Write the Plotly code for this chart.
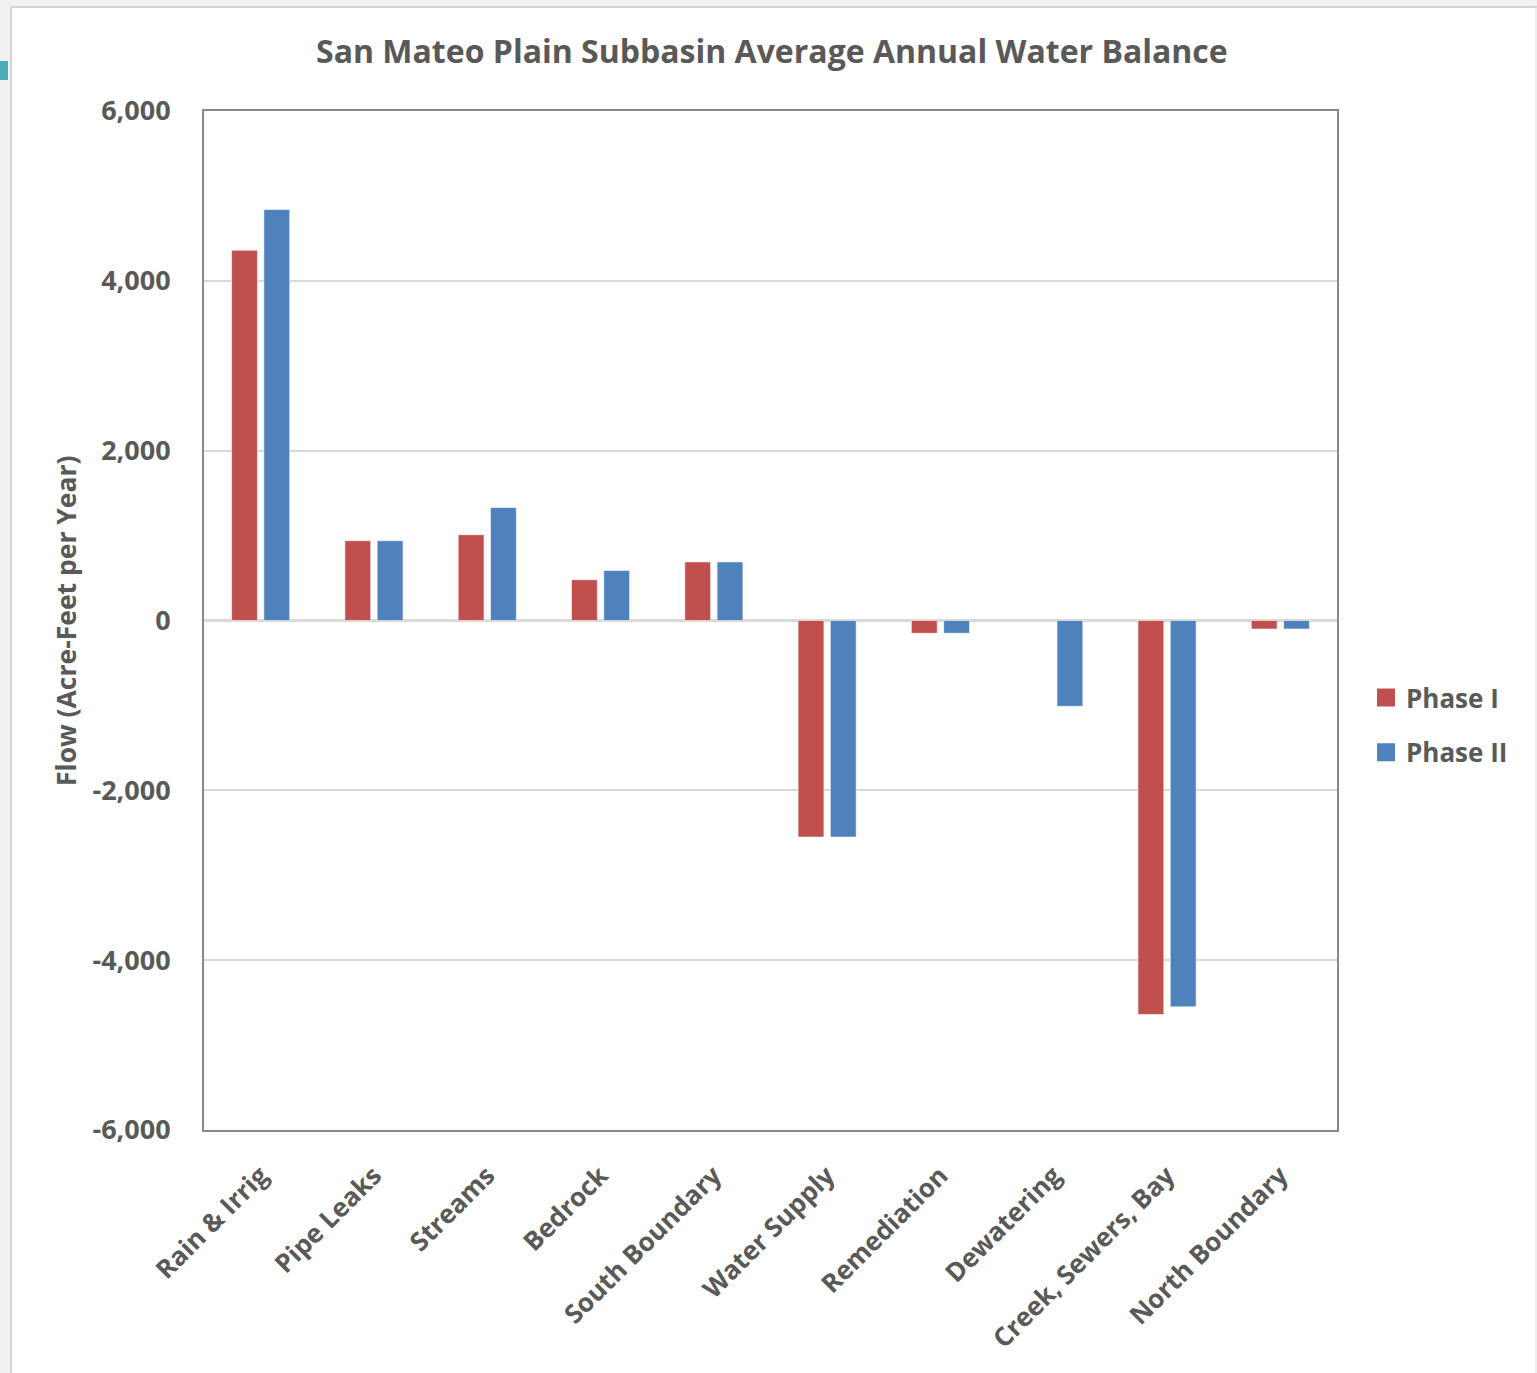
import plotly.graph_objects as go

# Average annual water balance terms (acre-feet per year)
categories = ["Rain & Irrig", "Pipe Leaks", "Streams", "Bedrock", "South Boundary",
              "Water Supply", "Remediation", "Dewatering", "Creek, Sewers, Bay", "North Boundary"]
phase_1 = [4360, 940, 1010, 480, 690, -2550, -150, 0, -4640, -100]
phase_2 = [4840, 940, 1330, 590, 690, -2550, -150, -1010, -4550, -100]
series_names = ["Phase I", "Phase II"]
y_ticks = [-6000, -4000, -2000, 0, 2000, 4000, 6000]
y_tick_labels = ["-6,000", "-4,000", "-2,000", "0", "2,000", "4,000", "6,000"]

RED = "#C0504D"
BLUE = "#4F81BD"
TEXT = "#595959"
FONT = "Open Sans"

W, H = 1537, 1373
L, R, T, B = 204, 200, 111, 243


def px(x):
    return (x - L) / (W - L - R)


def py(y):
    return (H - B - y) / (H - T - B)


fig = go.Figure()
for name, vals, color, grp in [(series_names[0], phase_1, RED, "a"),
                               (series_names[1], phase_2, BLUE, "b")]:
    # bars (no outline on empty bars so a zero value leaves no mark)
    fig.add_trace(go.Bar(
        x=categories, y=vals, name=name, legendgroup=grp, showlegend=False,
        marker=dict(color=color,
                    line=dict(color="rgba(255,255,255,0.55)",
                              width=[1 if v != 0 else 0 for v in vals])),
    ))
    # larger square swatch for the legend entry
    fig.add_trace(go.Scatter(
        x=[None], y=[None], mode="markers", name=name, legendgroup=grp,
        marker=dict(symbol="square", size=16, color=color,
                    line=dict(color=color, width=2)),
    ))

fig.update_layout(
    width=W, height=H,
    margin=dict(l=L, r=R, t=T, b=B, autoexpand=False),
    paper_bgcolor="white", plot_bgcolor="white",
    barmode="group", bargap=0.43, bargroupgap=0.2,
    font=dict(family=FONT, color=TEXT, size=26),
    title=dict(text="<b>San Mateo Plain Subbasin Average Annual Water Balance</b>",
               x=px(773), xanchor="center", y=1 - 52 / H, yanchor="middle",
               font=dict(size=32, color=TEXT, family=FONT)),
    legend=dict(x=px(1366), xanchor="left", y=py(725), yanchor="middle",
                font=dict(size=26, color=TEXT, family=FONT, weight="bold"),
                tracegroupgap=18, traceorder="grouped", bgcolor="rgba(0,0,0,0)",
                itemsizing="trace"),
    showlegend=True,
)

fig.update_xaxes(
    showline=True, linecolor="#898989", linewidth=2, mirror=True,
    tickangle=-45, ticks="", ticklabelstandoff=18,
    tickfont=dict(size=26, color=TEXT, family=FONT, weight="bold"),
    showgrid=False,
)
fig.update_yaxes(
    range=[-6000, 6000], tickvals=y_ticks, ticktext=y_tick_labels,
    showline=True, linecolor="#898989", linewidth=2, mirror=True,
    gridcolor="#D9D9D9", gridwidth=2,
    zeroline=True, zerolinecolor="#D9D9D9", zerolinewidth=3,
    ticks="", ticklabelstandoff=26,
    tickfont=dict(size=27, color=TEXT, family=FONT, weight="bold"),
)

fig.add_annotation(
    text="<b>Flow (Acre-Feet per Year)</b>", textangle=-90,
    xref="paper", yref="paper", x=px(66), y=py(621),
    xanchor="center", yanchor="middle", showarrow=False,
    font=dict(size=26.5, color=TEXT, family=FONT),
)

# window frame around the chart sheet
fig.add_shape(type="rect", xref="paper", yref="paper", layer="below",
              x0=px(0), x1=px(11), y0=py(H), y1=py(0),
              fillcolor="#F1F1F1", line=dict(width=0))
fig.add_shape(type="rect", xref="paper", yref="paper", layer="below",
              x0=px(0), x1=px(W), y0=py(7), y1=py(0),
              fillcolor="#F1F1F1", line=dict(width=0))
fig.add_shape(type="line", xref="paper", yref="paper",
              x0=px(11), x1=px(11), y0=py(H), y1=py(7),
              line=dict(color="#D4D4D4", width=2))
fig.add_shape(type="line", xref="paper", yref="paper",
              x0=px(11), x1=px(W), y0=py(7), y1=py(7),
              line=dict(color="#D4D4D4", width=2))
fig.add_shape(type="line", xref="paper", yref="paper",
              x0=px(1536), x1=px(1536), y0=py(H), y1=py(7),
              line=dict(color="#E0E0E0", width=1))
fig.add_shape(type="rect", xref="paper", yref="paper",
              x0=px(0), x1=px(8), y0=py(80), y1=py(61),
              fillcolor="#4BACB6", line=dict(width=0))

fig.write_html("out.html")
